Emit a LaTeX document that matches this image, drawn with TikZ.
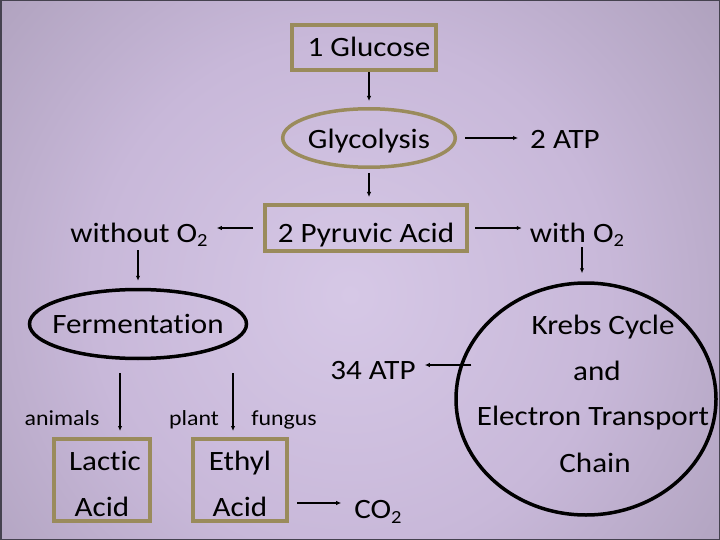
\documentclass[tikz,border=0pt]{standalone}
\usepackage{fontspec}
\setmainfont{Carlito}[FakeStretch=1.11, Ligatures=NoCommon]
\usetikzlibrary{shapes.geometric,arrows.meta}
\definecolor{boxc}{HTML}{9A8B5C}
\definecolor{bgA}{HTML}{D6C8E6}
\definecolor{bgB}{HTML}{C8B8D9}
\definecolor{bgC}{HTML}{AA9DB8}
\definecolor{bgD}{HTML}{8A819A}
\definecolor{bgE}{HTML}{736C80}
\definecolor{framec}{HTML}{45424F}
\pgfdeclareradialshading{bgshade}{\pgfpoint{0bp}{0bp}}{color(0bp)=(bgA); color(13.2bp)=(bgB); color(26.3bp)=(bgC); color(39.4bp)=(bgD); color(46.9bp)=(bgE); color(50bp)=(bgE)}
\newcommand\lowtwo{\raisebox{-5pt}{\fontsize{18.5}{18.5}\selectfont 2}}
\tikzset{
  txt/.style={font=\fontsize{28}{46}\selectfont, inner sep=0pt, text=black},
  smalltxt/.style={font=\fontsize{21.5}{25}\selectfont, inner sep=0pt, text=black},
  obox/.style={txt, draw=boxc, line width=4pt, rectangle},
  oell/.style={txt, draw=boxc, line width=3.5pt, ellipse},
  bell/.style={txt, draw=black, line width=3.5pt, ellipse},
  arr/.style={draw=black, line width=1.4pt, -{Latex[length=5pt,width=4.5pt]}}
}
\begin{document}
\begin{tikzpicture}[x=1pt,y=-1pt]
\useasboundingbox (0,0) rectangle (720,540);
\begin{scope}
\clip (0,0) rectangle (720,540);
\shade[shading=bgshade] (350,295) circle (490);
\draw[framec, line width=3pt] (0,0) rectangle (720,540);
\end{scope}

% main nodes
\node[obox, minimum width=144pt, minimum height=45pt, text height=19pt, text depth=0pt] (glucose) at (364,47.5) {\hspace*{10pt}1 Glucose};
\node[oell, minimum width=172.5pt, minimum height=58.5pt, text height=22pt, text depth=0pt] (glyco) at (369,138) {Glycolysis};
\node[obox, minimum width=202pt, minimum height=46pt, text height=28pt, text depth=0pt] (pyruvic) at (366,228) {2 Pyruvic Acid};
\node[bell, inner xsep=-14pt, minimum width=217pt, minimum height=69pt, text height=18pt, text depth=0pt] (ferm) at (138,324) {Fermentation};
\node[draw=black, line width=3.5pt, ellipse, minimum width=260pt, minimum height=232pt] (krebs) at (586,399) {};
\node[obox, align=center, minimum width=96pt, minimum height=82pt] (lactic) at (102,480) {\rule{0pt}{28pt}\hspace*{6pt}Lactic\\Acid};
\node[obox, align=center, minimum width=94pt, minimum height=82pt] (ethyl) at (240,480) {\rule{0pt}{28pt}Ethyl\\Acid};

% text labels
\node[txt, anchor=base] (atp2) at (565,149) {2 ATP};
\node[txt, anchor=base] (without) at (139,242) {without O\lowtwo};
\node[txt, anchor=base] (with) at (577,242) {with O\lowtwo};
\node[txt, anchor=base] (atp34) at (373,379) {34 ATP};
\node[txt, anchor=base] (co2) at (378,518) {CO\lowtwo};
\node[smalltxt, anchor=base] (animals) at (62,425) {animals};
\node[smalltxt, anchor=base] (plant) at (194,425) {plant};
\node[smalltxt, anchor=base] (fungus) at (284,425) {fungus};
\node[txt, anchor=base] (k1) at (603,334) {Krebs Cycle};
\node[txt, anchor=base] (k2) at (597,380) {and};
\node[txt, anchor=base] (k3) at (593,425) {Electron Transport};
\node[txt, anchor=base] (k4) at (595,472) {Chain};

% connectors
\draw[arr, shorten >=6pt] (glyco.north |- glucose.south) -- (glyco.north);
\draw[arr, shorten <=4pt, shorten >=6pt] (glyco.south) -- (glyco.south |- pyruvic.north);
\draw[arr, shorten <=8pt, shorten >=12pt] (glyco.east) -- (glyco.east -| atp2.west);
\draw[arr, shorten <=6pt, shorten >=8pt] (pyruvic.east) -- (pyruvic.east -| with.west);
\draw[arr, shorten <=10pt, shorten >=9pt] (pyruvic.west) -- (pyruvic.west -| without.east);
\draw[arr, shorten <=3pt, shorten >=7pt] (ferm.north |- without.south) -- (ferm.north);
\draw[arr, shorten <=0pt, shorten >=8pt] ([xshift=5pt]with.south) -- ([xshift=5pt]with.south |- krebs.north);
\draw[arr, shorten <=13pt, shorten >=6pt] ([xshift=-18pt]ferm.south) -- ([xshift=-18pt]ferm.south |- lactic.north);
\draw[arr, shorten <=13pt, shorten >=6pt] ([xshift=95pt]ferm.south) -- ([xshift=95pt]ferm.south |- ethyl.north);
\draw[arr, shorten <=8pt, shorten >=13pt] ([yshift=-23pt]ethyl.east) -- ([yshift=-23pt]ethyl.east -| co2.west);
\coordinate (kin) at ([xshift=17pt,yshift=34pt]krebs.west);
\draw[arr, shorten >=9pt] (kin) -- (kin -| atp34.east);
\end{tikzpicture}
\end{document}
